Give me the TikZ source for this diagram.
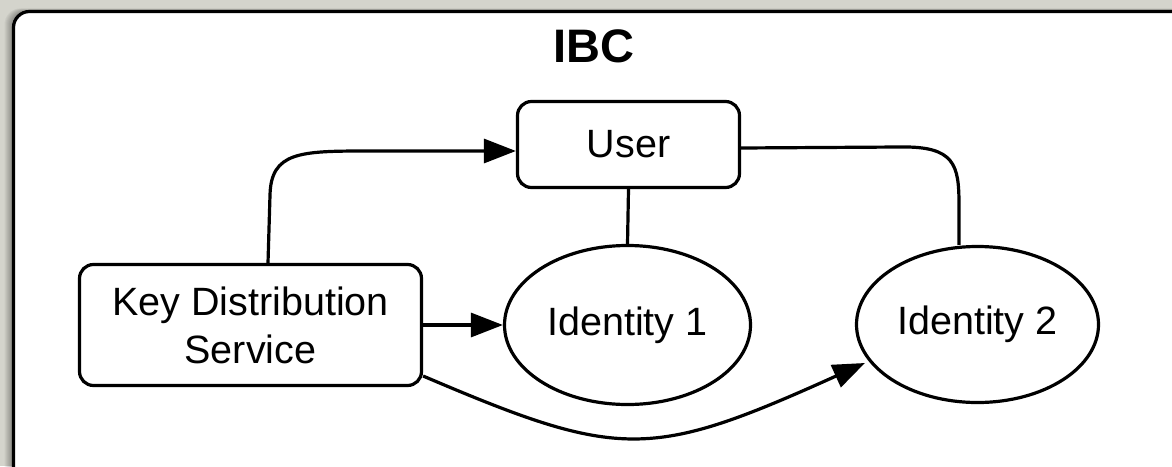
\documentclass[tikz,border=0pt]{standalone}
\usepackage{fontspec}
\setmainfont{Liberation Sans}
\usetikzlibrary{arrows.meta,shapes.geometric,calc}
\definecolor{desk}{RGB}{212,212,204}
\tikzset{
  boxnode/.style={draw, line width=3.2pt, rounded corners=14pt, fill=white,
    font=\fontsize{39.5}{48}\selectfont, align=center, inner sep=0pt},
  ovalnode/.style={draw, ellipse, line width=3.2pt, fill=white,
    font=\fontsize{39.5}{48}\selectfont, inner sep=0pt},
  link/.style={line width=3.2pt, line join=round},
  arrowlink/.style={link, -{Triangle[length=32pt,width=24pt]}},
}
\begin{document}
\begin{tikzpicture}[x=1pt,y=-1pt]
\useasboundingbox (0,0) rectangle (1172,466);
\clip (0,0) rectangle (1172,466);
% desk background
\fill[desk] (0,0) rectangle (1172,466);
% soft shadow around the panel
\foreach \d in {1,...,9}
  \fill[black, opacity=0.045, rounded corners=16pt]
    (13.5-\d,11.5-0.35*\d) rectangle (1190,490);
% panel
\draw[line width=3.2pt, fill=white, rounded corners=16pt] (13.5,11.5) rectangle (1190,490);

% title
\node[font=\bfseries\fontsize{47}{56}\selectfont] (title) at (594,46) {IBC};

% nodes
\node[boxnode, minimum width=222pt, minimum height=86pt] (user) at (628.5,144.5) {User};
\node[boxnode, minimum width=342pt, minimum height=121pt] (kds) at (250.5,325) {Key Distribution\\Service};
\node[ovalnode, minimum width=246pt, minimum height=159pt] (id1) at (627.5,325) {Identity 1};
\node[ovalnode, minimum width=242pt, minimum height=156pt] (id2) at (977.5,324.5) {Identity 2};

% connectors
\draw[arrowlink] ($(kds.north)+(17.5,0)$) -- (270,195)
  .. controls (271,152) and (300,151) .. (367,151) -- ($(user.west)+(0,6.5)$);
\draw[link] (user.south) -- (id1.north);
\draw[link] ($(user.east)+(0,3.5)$) -- (900,147)
  .. controls (955,146) and (959,165) .. (959,205) -- ($(id2.north)+(-18.5,0)$);
\draw[arrowlink] (kds.east) -- (id1.west);
\draw[arrowlink] ($(kds.east)+(0,51)$)
  .. controls (620,460) and (650,460) .. ($(id2.west)+(10,38.5)$);
\end{tikzpicture}
\end{document}
